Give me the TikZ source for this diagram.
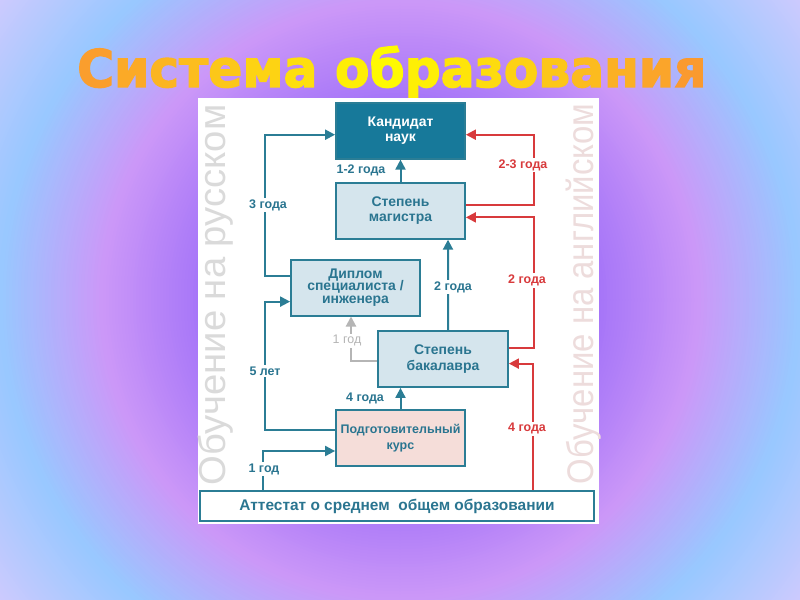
\documentclass[tikz,border=0pt]{standalone}
\usepackage{fontspec}
\setmainfont{Liberation Sans}
\newfontfamily\ttlfont{DejaVu Sans}[BoldFeatures={FakeBold=2.5}]
\usetikzlibrary{arrows.meta}
\definecolor{bgA}{HTML}{9E6EF8}
\definecolor{bgB}{HTML}{CC98F8}
\definecolor{bgC}{HTML}{98C8FF}
\definecolor{bgD}{HTML}{CCCAFE}
\definecolor{tealc}{HTML}{2B7D95}
\definecolor{tealtext}{HTML}{2A7590}
\definecolor{darkc}{HTML}{17799A}
\definecolor{lightc}{HTML}{D5E5ED}
\definecolor{pinkc}{HTML}{F5DDD9}
\definecolor{redc}{HTML}{D83A3C}
\definecolor{greyc}{HTML}{B5B5B5}
\definecolor{vleft}{HTML}{DADADA}
\definecolor{vright}{HTML}{EDDCDC}
\definecolor{torange}{HTML}{FA9830}
\definecolor{tyellow}{HTML}{FFFA00}
\newcommand\tc[2]{\textcolor{torange!#1!tyellow}{#2}}
\newcommand\bxfont{\fontsize{14}{15.5}\selectfont\bfseries}
\newcommand\lbfont{\fontsize{12.5}{14}\selectfont\bfseries}
\tikzset{
  box/.style={draw=tealc, line width=1.8bp, fill=lightc, minimum width=129bp, minimum height=56bp,
    inner sep=0pt, align=center, text=tealtext, font=\bxfont},
  tl/.style={draw=tealc, line width=2bp, -{Triangle[length=10bp,width=10bp]}},
  rl/.style={draw=redc, line width=2bp, -{Triangle[length=10bp,width=10bp]}},
  gl/.style={draw=greyc, line width=2bp, -{Triangle[length=10bp,width=10bp]}},
  lbl/.style={fill=white, inner sep=1.5bp, font=\lbfont, text=tealtext},
  rlbl/.style={lbl, text=redc},
  glbl/.style={fill=white, inner sep=1.5bp, font=\fontsize{12.5}{14}\selectfont, text=greyc},
}
\begin{document}
\begin{tikzpicture}[x=1bp,y=-1bp]
\useasboundingbox (0,0) rectangle (800,600);
% background: radial gradient from concentric discs
\begin{scope}
  \clip (0,0) rectangle (800,600);
  \foreach \r in {510,507,...,400} {
    \pgfmathsetmacro\p{min(100,(\r-400))}
    \fill[bgD!\p!bgC] (400,300) circle (\r);
  }
  \foreach \r in {397,394,...,300} {
    \pgfmathsetmacro\p{\r-300}
    \fill[bgC!\p!bgB] (400,300) circle (\r);
  }
  \foreach \r in {297,294,...,180} {
    \pgfmathsetmacro\p{(\r-180)/1.2}
    \fill[bgB!\p!bgA] (400,300) circle (\r);
  }
  \fill[bgA] (400,300) circle (180);
\end{scope}
% title
\node[anchor=base west, inner sep=0pt] (title) at (77,87) {\ttlfont\bfseries\resizebox{629bp}{41bp}{%
\tc{94}{С}\tc{82}{и}\tc{71}{с}\tc{62}{т}\tc{52}{е}\tc{40}{м}\tc{28}{а} \tc{12}{о}\tc{1}{б}\tc{11}{р}\tc{22}{а}\tc{32}{з}\tc{42}{о}\tc{53}{в}\tc{64}{а}\tc{75}{н}\tc{87}{и}\tc{98}{я}}};
% panel
\fill[white] (198,98) rectangle (599,524);
% vertical texts
\node[rotate=90, inner sep=0pt, text=vleft] (vl) at (216,295) {\resizebox{381bp}{27.5bp}{\fontsize{36}{36}\selectfont Обучение на русском}};
\node[rotate=90, inner sep=0pt, text=vright] (vr) at (584,294) {\resizebox{381bp}{27.5bp}{\fontsize{36}{36}\selectfont Обучение на английском}};
% boxes
\node[box, fill=darkc, text=white] (kand) at (400.5,130.7) {Кандидат\\наук};
\node[box] (mag) at (400.5,210.8) {Степень\\магистра};
\node[box, font=\fontsize{14}{13}\selectfont\bfseries] (dipl) at (355.5,287.6) {Диплом\\специалиста /\\инженера};
\node[box, minimum width=130bp] (bak) at (443,359) {Степень\\бакалавра};
\node[box, fill=pinkc, font=\fontsize{12.5}{15.5}\selectfont\bfseries] (podg) at (400.5,438) {Подготовительный\\курс};
\node[box, fill=white, minimum width=394bp, minimum height=30bp, font=\fontsize{15.5}{17}\selectfont\bfseries] (att) at (397,506) {Аттестат о среднем\ \ общем образовании};
% helper coordinates
\coordinate (c1) at (263,0);
\coordinate (c2) at (533,0);
% teal connectors
\draw[tl] ([yshift=12bp]dipl.west) -- ++(-25,0) |- ([yshift=-4bp]kand.west);
\draw[tl] ([yshift=8bp]podg.west) -- ++(-70,0) |- ([yshift=-14bp]dipl.west);
\draw[tl] (att.north -| c1) |- ([yshift=-13bp]podg.west);
\draw[tl] (podg.north) -- (bak.south -| podg.north);
\draw[tl] ([xshift=5bp]bak.north) -- ([xshift=47.5bp]mag.south);
\draw[tl] (mag.north) -- (kand.south);
% grey connector
\draw[gl] ([yshift=-2bp]bak.west) -| ([xshift=-4.5bp]dipl.south);
% red connectors
\draw[rl] ([yshift=6bp]mag.east) -- ++(68,0) |- ([yshift=-4bp]kand.east);
\draw[rl] ([yshift=11bp]bak.east) -- ++(25,0) |- ([yshift=-6.6bp]mag.east);
\draw[rl] (att.north -| c2) |- ([yshift=-4.6bp]bak.east);
% labels
\node[lbl] (l3) at (268,205) {3 года};
\node[lbl] (l5) at (265,371) {5 лет};
\node[lbl] (l1) at (264,469) {1 год};
\node[lbl, fill=none] (l4) at (365,398) {4 года};
\node[lbl] (l2) at (453,287) {2 года};
\node[lbl, fill=none] (l12) at (361,170) {1-2 года};
\node[glbl] (lg) at (347,340.6) {1 год};
\node[rlbl] (r23) at (523,165) {2-3 года};
\node[rlbl] (r2) at (527,280.5) {2 года};
\node[rlbl] (r4) at (527,428.6) {4 года};
\end{tikzpicture}
\end{document}
